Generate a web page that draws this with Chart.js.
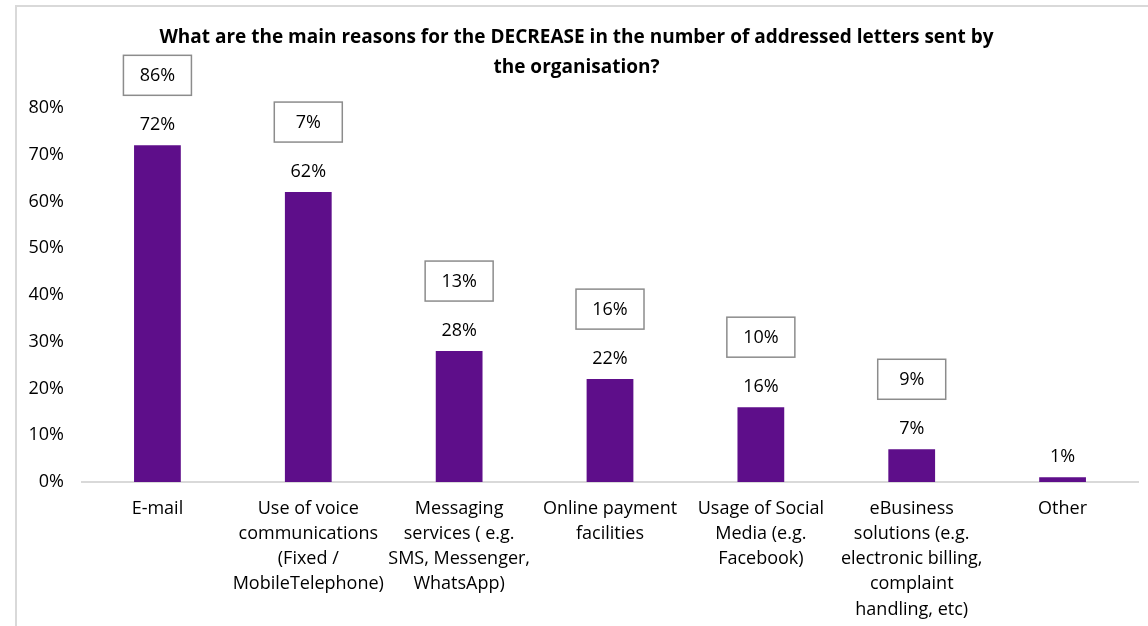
<!DOCTYPE html>
<html>
<head>
<meta charset="utf-8">
<script src="https://cdn.jsdelivr.net/npm/chart.js@4.4.1/dist/chart.umd.min.js"></script>
<style>
  html, body { margin: 0; padding: 0; background: #fff; }
  #wrap { position: relative; width: 1148px; height: 626px; }
</style>
</head>
<body>
<div id="wrap"><canvas id="chart" width="1148" height="626"></canvas></div>
<script>
const categories = [
  ["E-mail"],
  ["Use of voice", "communications", "(Fixed /", "MobileTelephone)"],
  ["Messaging", "services ( e.g.", "SMS, Messenger,", "WhatsApp)"],
  ["Online payment", "facilities"],
  ["Usage of Social", "Media (e.g.", "Facebook)"],
  ["eBusiness", "solutions (e.g.", "electronic billing,", "complaint", "handling, etc)"],
  ["Other"]
]
const decreaseShare = [72, 62, 28, 22, 16, 7, 1]
const boxedShare = [86, 7, 13, 16, 10, 9, null]
const yTicks = [0, 10, 20, 30, 40, 50, 60, 70, 80]

const FONT = "'Open Sans', sans-serif"
const BAR_COLOR = "#5e0e8a"

// frame line on the left and top edges
const framePlugin = {
  id: "frame",
  beforeDraw(chart) {
    const ctx = chart.ctx
    ctx.save()
    ctx.strokeStyle = "#d9d9d9"
    ctx.lineWidth = 2
    ctx.beginPath()
    ctx.moveTo(16, 1148)
    ctx.lineTo(16, 6)
    ctx.lineTo(1148, 6)
    ctx.stroke()
    ctx.restore()
  }
}

// value above each bar plus the boxed figure above that
const barLabels = {
  id: "barLabels",
  afterDatasetsDraw(chart) {
    const ctx = chart.ctx
    const meta = chart.getDatasetMeta(0)
    ctx.save()
    ctx.font = "18px " + FONT
    ctx.textAlign = "center"
    ctx.textBaseline = "middle"
    meta.data.forEach((bar, i) => {
      ctx.fillStyle = "#000"
      ctx.fillText(decreaseShare[i] + "%", bar.x, bar.y - 20)
      const boxed = boxedShare[i]
      if (boxed === null) return
      const cy = bar.y - 70
      ctx.fillStyle = "#fff"
      ctx.fillRect(bar.x - 34, cy - 20, 68, 40)
      ctx.strokeStyle = "#8c8c8c"
      ctx.lineWidth = 1.5
      ctx.strokeRect(bar.x - 34, cy - 20, 68, 40)
      ctx.fillStyle = "#000"
      ctx.fillText(boxed + "%", bar.x, cy + 1)
    })
    ctx.restore()
  }
}

new Chart(document.getElementById("chart"), {
  type: "bar",
  data: {
    labels: categories,
    datasets: [{
      data: decreaseShare,
      backgroundColor: BAR_COLOR,
      barPercentage: 0.31,
      categoryPercentage: 1
    }]
  },
  plugins: [framePlugin, barLabels],
  options: {
    responsive: false,
    animation: false,
    layout: { padding: { left: 15, right: 10, top: 0, bottom: 0 } },
    plugins: {
      legend: { display: false },
      tooltip: { enabled: false },
      title: {
        display: true,
        text: [
          "What are the main reasons for the DECREASE in the number of addressed letters sent by",
          "the organisation?"
        ],
        color: "#000",
        font: { family: FONT, size: 19, weight: "bold", lineHeight: 1.55 },
        padding: { top: 23, bottom: 26 }
      }
    },
    scales: {
      x: {
        grid: { display: false, drawTicks: false },
        border: { display: true, color: "#d9d9d9", width: 2 },
        ticks: {
          color: "#000",
          font: { family: FONT, size: 18, lineHeight: 1.4 },
          padding: 14,
          maxRotation: 0,
          autoSkip: false
        },
        afterFit(scale) { scale.height = 144 }
      },
      y: {
        min: 0,
        max: 80,
        grid: { display: false, drawTicks: false },
        border: { display: false },
        afterBuildTicks(scale) { scale.ticks = yTicks.map(v => ({ value: v })) },
        ticks: {
          color: "#000",
          font: { family: FONT, size: 18 },
          padding: 18,
          callback: v => v + "%"
        },
        afterFit(scale) { scale.width = 67 }
      }
    }
  }
})
</script>
</body>
</html>
